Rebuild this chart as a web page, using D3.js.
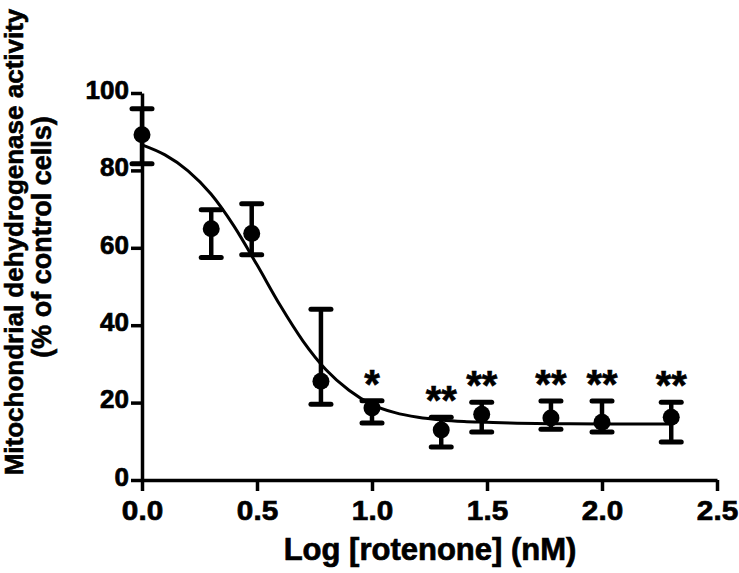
<!DOCTYPE html>
<html>
<head>
<meta charset="utf-8">
<script src="https://cdn.jsdelivr.net/npm/d3@7"></script>
<style>
  html, body { margin: 0; padding: 0; background: #fff; }
  svg { display: block; }
  text { font-family: "Liberation Sans", Arial, Helvetica, sans-serif; font-weight: bold; fill: #000; }
</style>
</head>
<body>
<svg id="chart" width="739" height="573"></svg>
<script>
// ---- data ----
const logDose   = [0, 0.301, 0.477, 0.778, 1.0, 1.301, 1.477, 1.778, 2.0, 2.301];
const meanValue = [89.2, 64.9, 63.7, 25.5, 18.6, 12.9, 17.0, 16.0, 14.9, 16.2];
const upperErr  = [95.9, 69.8, 71.4, 44.1, 20.5, 16.2, 20.1, 20.4, 20.4, 20.1];
const lowerErr  = [81.7, 57.5, 58.2, 19.6, 14.7, 8.5, 12.4, 13.1, 12.4, 9.8];
const signif    = ["", "", "", "", "*", "**", "**", "**", "**", "**"];
// fitted curve
const curveX = [0, 0.1, 0.2, 0.3, 0.4, 0.5, 0.6, 0.7, 0.8, 0.9, 1.0, 1.1, 1.2, 1.3, 1.4, 1.5, 1.6, 1.8, 2.0, 2.301];
const curveY = [86.6, 84.0, 79.9, 73.9, 65.6, 55.6, 45.2, 35.9, 28.5, 23.2, 19.5, 17.4, 16.2, 15.5, 15.1, 14.9, 14.7, 14.55, 14.5, 14.5];
const xTicks = [0, 0.5, 1.0, 1.5, 2.0, 2.5];
const yTicks = [0, 20, 40, 60, 80, 100];
const xTitle = "Log [rotenone] (nM)";
const yTitle1 = "Mitochondrial dehydrogenase activity";
const yTitle2 = "(% of control cells)";

// ---- drawing ----
const svg = d3.select("#chart");
const x = d3.scaleLinear().domain([0, 2.5]).range([142, 717]);
const y = d3.scaleLinear().domain([0, 100]).range([480, 93]);

const xAxis = d3.axisBottom(x).tickValues(xTicks).tickFormat(d3.format(".1f")).tickSize(11).tickSizeOuter(0).tickPadding(10);
const yAxis = d3.axisLeft(y).tickValues(yTicks).tickFormat(d3.format("d")).tickSize(11).tickSizeOuter(0).tickPadding(2);

const gx = svg.append("g").attr("transform", `translate(0,${y(0)})`).call(xAxis);
const gy = svg.append("g").attr("transform", `translate(${x(0)},0)`).call(yAxis);
[gx, gy].forEach(g => {
  g.select(".domain").attr("stroke", "#000").attr("stroke-width", 3.5);
  g.selectAll(".tick line").attr("stroke", "#000").attr("stroke-width", 3.5);
  g.selectAll(".tick text")
    .style("font-family", "'Liberation Sans', Arial, sans-serif").style("font-weight", "bold")
    .attr("fill", "#000").attr("stroke", "#000").attr("stroke-width", 0.7);
});
gx.selectAll(".tick text").style("font-size", "27px").attr("dy", "0.71em").attr("transform", "scale(1.1,1)");
gy.selectAll(".tick text").style("font-size", "26px").attr("dy", "0.2em");

// curve
const pts = curveX.map((cx, i) => [cx, curveY[i]]);
svg.append("path")
  .datum(pts)
  .attr("fill", "none")
  .attr("stroke", "#000")
  .attr("stroke-width", 3)
  .attr("d", d3.line().x(d => x(d[0])).y(d => y(d[1])).curve(d3.curveMonotoneX));

// error bars
const data = logDose.map((d, i) => ({x: d, m: meanValue[i], hi: upperErr[i], lo: lowerErr[i], s: signif[i]}));
const g = svg.append("g");
g.selectAll("line.eb").data(data).join("line")
  .attr("x1", d => x(d.x)).attr("x2", d => x(d.x))
  .attr("y1", d => y(d.hi)).attr("y2", d => y(d.lo))
  .attr("stroke", "#000").attr("stroke-width", 4.5);
const capW = 10;
["hi", "lo"].forEach(k => {
  g.selectAll("line.cap" + k).data(data).join("line")
    .attr("x1", d => x(d.x) - capW).attr("x2", d => x(d.x) + capW)
    .attr("y1", d => y(d[k])).attr("y2", d => y(d[k]))
    .attr("stroke", "#000").attr("stroke-width", 5).attr("stroke-linecap", "round");
});
g.selectAll("circle").data(data).join("circle")
  .attr("cx", d => x(d.x)).attr("cy", d => y(d.m)).attr("r", 8.5).attr("fill", "#000");

// significance stars
g.selectAll("text.star").data(data.filter(d => d.s)).join("text")
  .attr("x", d => x(d.x)).attr("y", d => y(d.hi) - 3)
  .attr("text-anchor", "middle")
  .style("font-size", "40px")
  .attr("stroke", "#000").attr("stroke-width", 0.6)
  .text(d => d.s);

// titles
svg.append("text").attr("x", 430).attr("y", 560).attr("text-anchor", "middle")
  .style("font-size", "31px").attr("stroke", "#000").attr("stroke-width", 0.7).text(xTitle);
svg.append("text").attr("transform", "translate(23,242) rotate(-90)").attr("text-anchor", "middle")
  .style("font-size", "26px").attr("stroke", "#000").attr("stroke-width", 0.6).text(yTitle1);
svg.append("text").attr("transform", "translate(51,237) rotate(-90)").attr("text-anchor", "middle")
  .style("font-size", "27px").attr("stroke", "#000").attr("stroke-width", 0.6).text(yTitle2);
</script>
</body>
</html>
